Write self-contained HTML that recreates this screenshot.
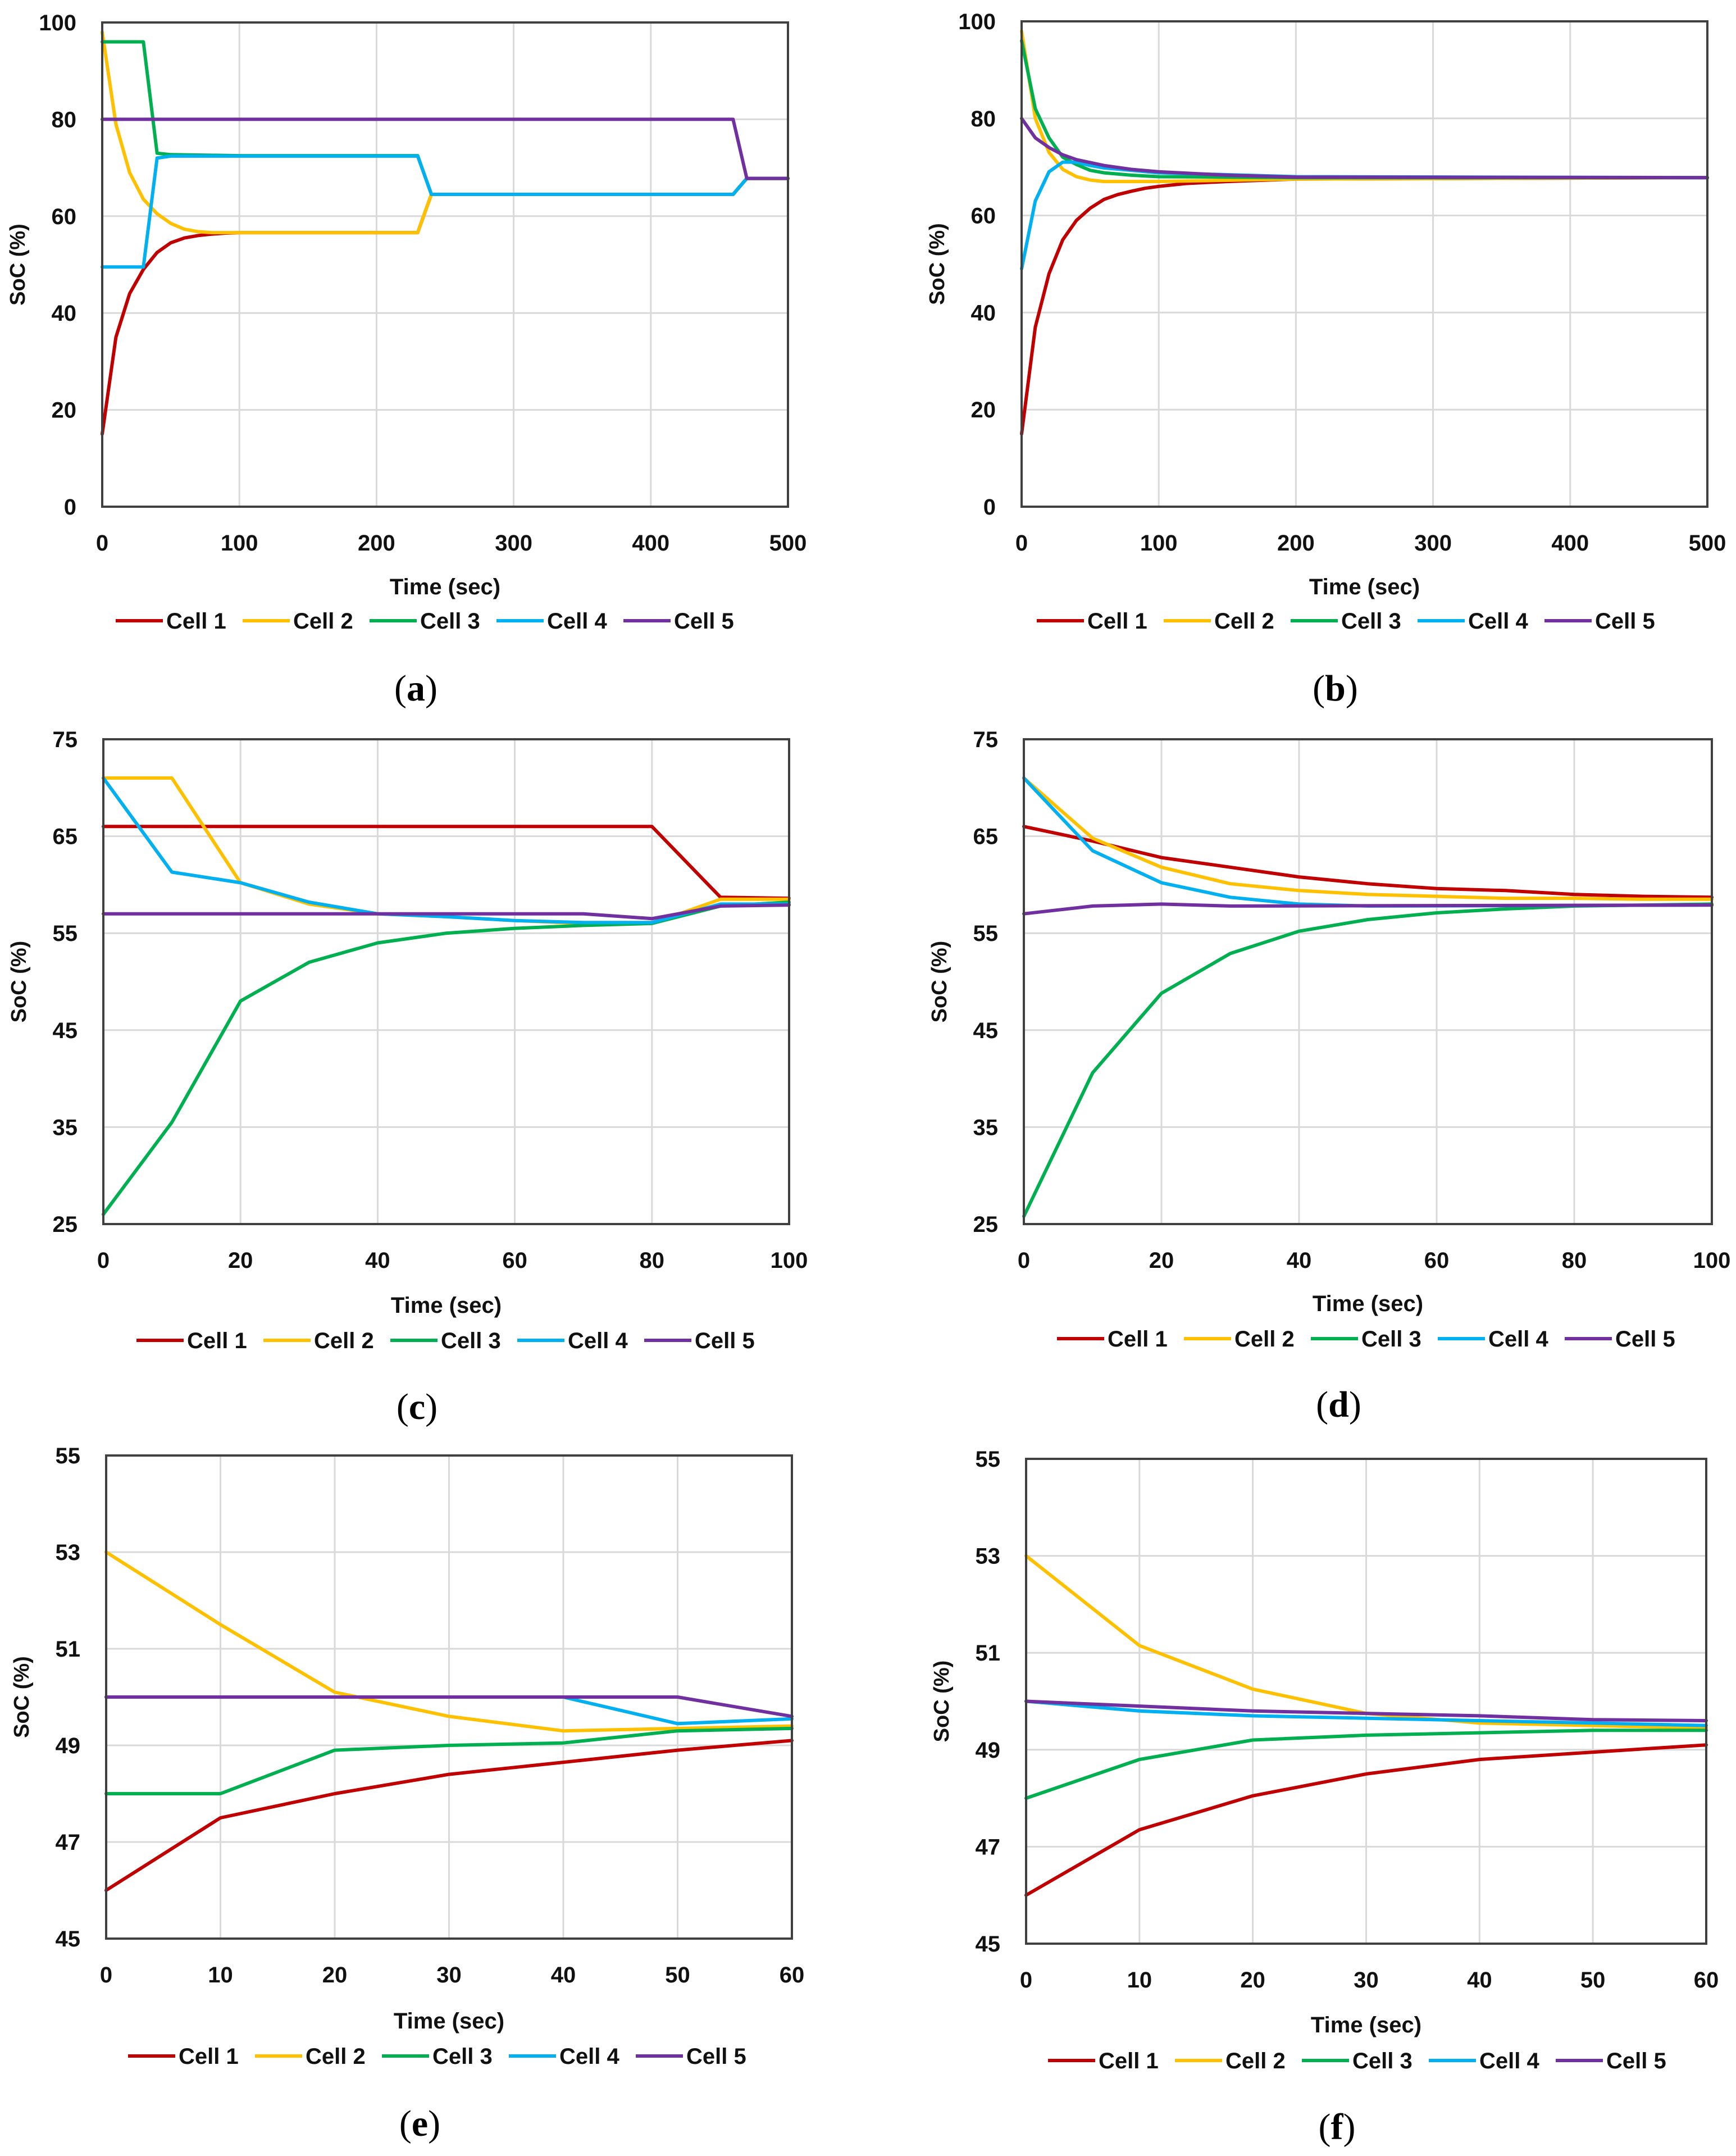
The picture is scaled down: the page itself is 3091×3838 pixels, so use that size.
<!DOCTYPE html>
<html><head><meta charset="utf-8"><style>
html,body{margin:0;padding:0;background:#fff;}
body{width:3091px;height:3838px;overflow:hidden;}
svg{display:block;}
</style></head><body>
<svg id="fig" width="3091" height="3838" xmlns="http://www.w3.org/2000/svg"></svg>
<script>
// ---------- data (time, SoC %) ----------
const a_cell1 = [[0,15],[10,35],[20,44],[30,49],[40,52.5],[50,54.5],[60,55.5],[70,56],[80,56.3],[90,56.5],[100,56.6],[230,56.6],[240,64.5],[460,64.5],[470,67.8],[500,67.8]];
const a_cell2 = [[0,98],[10,79],[20,69],[30,63.5],[40,60.5],[50,58.5],[60,57.3],[70,56.8],[80,56.6],[100,56.6],[230,56.6],[240,64.5],[460,64.5],[470,67.8],[500,67.8]];
const a_cell3 = [[0,96],[30,96],[40,73],[50,72.7],[100,72.5],[230,72.5],[240,64.5],[460,64.5],[470,67.8],[500,67.8]];
const a_cell4 = [[0,49.5],[30,49.5],[40,72],[50,72.4],[230,72.4],[240,64.5],[460,64.5],[470,67.8],[500,67.8]];
const a_cell5 = [[0,80],[460,80],[470,67.8],[500,67.8]];

const b_cell1 = [[0,15],[10,37],[20,48],[30,55],[40,59],[50,61.5],[60,63.3],[70,64.3],[80,65],[90,65.6],[100,66],[120,66.6],[150,67],[200,67.5],[500,67.8]];
const b_cell2 = [[0,98],[10,80],[20,73],[30,69.5],[40,68],[50,67.3],[60,67],[100,67],[200,67.5],[500,67.8]];
const b_cell3 = [[0,96],[10,82],[20,76],[30,72],[40,70.5],[50,69.3],[60,68.8],[80,68.3],[100,68],[200,67.8],[500,67.8]];
const b_cell4 = [[0,49],[10,63],[20,69],[30,71],[40,71],[50,70.3],[60,69.8],[100,68.8],[200,68],[500,67.8]];
const b_cell5 = [[0,80],[10,76],[20,74],[30,72.5],[40,71.5],[60,70.3],[80,69.5],[100,69],[150,68.3],[200,67.9],[500,67.8]];

const c_cell1 = [[0,66],[80,66],[90,58.7],[100,58.6]];
const c_cell2 = [[0,71],[10,71],[20,60.2],[30,58],[40,57],[50,56.7],[60,56.3],[70,56],[80,56],[90,58.5],[100,58.5]];
const c_cell3 = [[0,26],[10,35.5],[20,48],[30,52],[40,54],[50,55],[60,55.5],[70,55.8],[80,56],[90,57.8],[100,58.2]];
const c_cell4 = [[0,71],[10,61.3],[20,60.2],[30,58.2],[40,57],[50,56.7],[60,56.3],[70,56.1],[80,56.1],[90,58],[100,58]];
const c_cell5 = [[0,57],[70,57],[80,56.5],[90,57.8],[100,57.9]];

const d_cell1 = [[0,66],[10,64.5],[20,62.8],[30,61.8],[40,60.8],[50,60.1],[60,59.6],[70,59.4],[80,59],[90,58.8],[100,58.7]];
const d_cell2 = [[0,71],[10,64.8],[20,61.8],[30,60.1],[40,59.4],[50,59],[60,58.8],[70,58.6],[80,58.6],[90,58.5],[100,58.5]];
const d_cell3 = [[0,25.8],[10,40.6],[20,48.8],[30,52.9],[40,55.2],[50,56.4],[60,57.1],[70,57.5],[80,57.8],[100,58]];
const d_cell4 = [[0,71],[10,63.5],[20,60.2],[30,58.7],[40,58],[50,57.8],[100,57.9]];
const d_cell5 = [[0,57],[10,57.8],[20,58],[30,57.8],[100,57.9]];

const e_cell1 = [[0,46],[10,47.5],[20,48],[30,48.4],[40,48.65],[50,48.9],[60,49.1]];
const e_cell2 = [[0,53],[10,51.5],[20,50.1],[30,49.6],[40,49.3],[50,49.35],[60,49.4]];
const e_cell3 = [[0,48],[10,48],[20,48.9],[30,49],[40,49.05],[50,49.3],[60,49.35]];
const e_cell4 = [[0,50],[40,50],[50,49.45],[60,49.55]];
const e_cell5 = [[0,50],[50,50],[60,49.6]];

const f_cell1 = [[0,46],[10,47.35],[20,48.05],[30,48.5],[40,48.8],[50,48.95],[60,49.1]];
const f_cell2 = [[0,53],[10,51.15],[20,50.25],[30,49.75],[40,49.55],[50,49.5],[60,49.45]];
const f_cell3 = [[0,48],[10,48.8],[20,49.2],[30,49.3],[40,49.35],[50,49.4],[60,49.4]];
const f_cell4 = [[0,50],[10,49.8],[20,49.7],[30,49.65],[40,49.6],[50,49.55],[60,49.5]];
const f_cell5 = [[0,50],[10,49.9],[20,49.8],[30,49.75],[40,49.7],[50,49.62],[60,49.6]];

const ticks_x500 = [0,100,200,300,400,500];
const ticks_x100 = [0,20,40,60,80,100];
const ticks_x60 = [0,10,20,30,40,50,60];
const ticks_y100 = [0,20,40,60,80,100];
const ticks_y75 = [25,35,45,55,65,75];
const ticks_y55 = [45,47,49,51,53,55];
const cellNames = ["Cell 1","Cell 2","Cell 3","Cell 4","Cell 5"];

// ---------- layout ----------
const colors = ["#c00000","#ffc000","#00b050","#00b0f0","#7030a0"];
const NS = "http://www.w3.org/2000/svg";
const svg = document.getElementById('fig');
function mk(tag, attrs, parent){
  const e = document.createElementNS(NS, tag);
  for (const k in attrs) e.setAttribute(k, attrs[k]);
  (parent||svg).appendChild(e);
  return e;
}
const panels = [
  {id:"a", L:182, R:1403, T:40, B:902, xt:ticks_x500, yt:ticks_y100, series:[a_cell1,a_cell2,a_cell3,a_cell4,a_cell5], legX:206, legY:1105, titleY:1044, capY:1225},
  {id:"b", L:1819, R:3040, T:38, B:902, xt:ticks_x500, yt:ticks_y100, series:[b_cell1,b_cell2,b_cell3,b_cell4,b_cell5], legX:1846, legY:1105, titleY:1044, capY:1225},
  {id:"c", L:184, R:1405, T:1316, B:2179, xt:ticks_x100, yt:ticks_y75, series:[c_cell1,c_cell2,c_cell3,c_cell4,c_cell5], legX:243, legY:2386, titleY:2323, capY:2504},
  {id:"d", L:1823, R:3048, T:1316, B:2179, xt:ticks_x100, yt:ticks_y75, series:[d_cell1,d_cell2,d_cell3,d_cell4,d_cell5], legX:1882, legY:2383, titleY:2320, capY:2500},
  {id:"e", L:189, R:1410, T:2591, B:3451, xt:ticks_x60, yt:ticks_y55, series:[e_cell1,e_cell2,e_cell3,e_cell4,e_cell5], legX:228, legY:3660, titleY:3597, capY:3780},
  {id:"f", L:1827, R:3038, T:2597, B:3460, xt:ticks_x60, yt:ticks_y55, series:[f_cell1,f_cell2,f_cell3,f_cell4,f_cell5], legX:1866, legY:3668, titleY:3604, capY:3786}
];
const FONT = '"Liberation Sans", Arial, sans-serif';

panels.forEach(p => {
  const g = mk('g', {});
  
  
  const x0 = p.xt[0], x1 = p.xt[p.xt.length-1];
  const y0 = p.yt[0], y1 = p.yt[p.yt.length-1];
  const sx = v => p.L + (v - x0) / (x1 - x0) * (p.R - p.L);
  const sy = v => p.B - (v - y0) / (y1 - y0) * (p.B - p.T);
  p.xt.forEach(t => {
    const l = mk('line', {x1:sx(t), x2:sx(t), y1:p.T, y2:p.B, stroke:"#d9d9d9", "stroke-width":3}, g);
    
    
    const tx = mk('text', {x:sx(t), y:p.B+78, "text-anchor":"middle", "font-family":FONT, "font-weight":"bold", "font-size":40, fill:"#111"}, g);
    tx.textContent = t;
    
    
  });
  p.yt.forEach(t => {
    const l = mk('line', {x1:p.L, x2:p.R, y1:sy(t), y2:sy(t), stroke:"#d9d9d9", "stroke-width":3}, g);
    
    
    const tx = mk('text', {x:p.L-46, y:sy(t)+14, "text-anchor":"end", "font-family":FONT, "font-weight":"bold", "font-size":40, fill:"#111"}, g);
    tx.textContent = t;
    
    
  });
  p.series.forEach((s, i) => {
    const d = s.map((pt, k) => (k ? 'L' : 'M') + sx(pt[0]).toFixed(1) + ',' + sy(pt[1]).toFixed(1)).join(' ');
    const path = mk('path', {d:d, fill:"none", stroke:colors[i], "stroke-width":6, "stroke-linejoin":"round", "stroke-linecap":"round"}, g);
    
    
  });
  const fr = mk('rect', {x:p.L, y:p.T, width:p.R-p.L, height:p.B-p.T, fill:"none", stroke:"#404040", "stroke-width":4}, g);
  
  
  const yx = p.L - 138, ymid = (p.T + p.B) / 2;
  const yt = mk('text', {x:yx, y:ymid, transform:`rotate(-90 ${yx} ${ymid})`, "text-anchor":"middle", "font-family":FONT, "font-weight":"bold", "font-size":38, fill:"#111"}, g);
  yt.textContent = "SoC (%)";
  
  
  const xt = mk('text', {x:(p.L+p.R)/2, y:p.titleY+14, "text-anchor":"middle", "font-family":FONT, "font-weight":"bold", "font-size":40, fill:"#111"}, g);
  xt.textContent = "Time (sec)";
  
  
  cellNames.forEach((n, i) => {
    const lx = p.legX + i * 226;
    const lg = mk('g', {}, g);
    
    
    mk('line', {x1:lx, x2:lx+84, y1:p.legY, y2:p.legY, stroke:colors[i], "stroke-width":6}, lg);
    const t = mk('text', {x:lx+90, y:p.legY+14, "font-family":FONT, "font-weight":"bold", "font-size":40, fill:"#111"}, lg);
    t.textContent = n;
  });
  const cap = mk('text', {x:(p.L+p.R)/2 - 52, y:p.capY+22, "text-anchor":"middle", "font-family":'"Liberation Serif", serif', "font-size":66, fill:"#000"}, g);
  cap.innerHTML = '(<tspan font-weight="bold">' + p.id + '</tspan>)';
  
  
});
</script>
</body></html>
